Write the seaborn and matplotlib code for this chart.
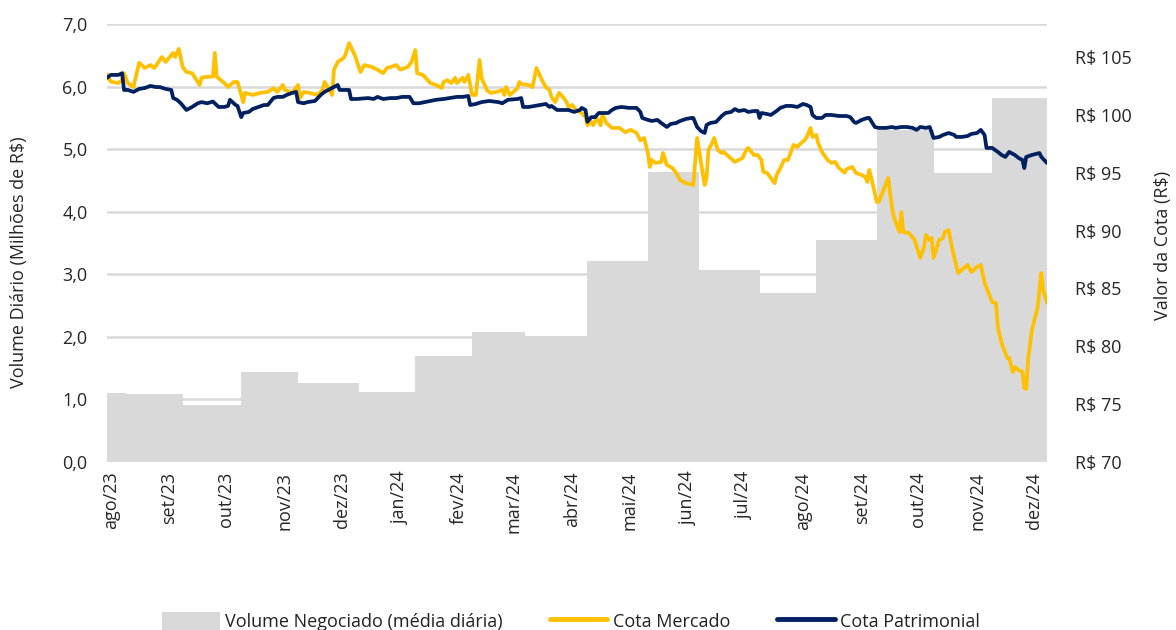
import matplotlib
matplotlib.use("Agg")
import matplotlib.pyplot as plt
import seaborn as sns
import pandas as pd
from matplotlib.patches import Patch
from matplotlib.lines import Line2D

# volume negociado (media diaria, milhoes de R$) - inicio de cada periodo
vol_start = ["2023-07-30", "2023-08-09", "2023-09-08", "2023-10-09", "2023-11-08", "2023-12-10",
             "2024-01-09", "2024-02-08", "2024-03-07", "2024-04-09", "2024-05-11", "2024-06-07",
             "2024-07-09", "2024-08-08", "2024-09-09", "2024-10-09", "2024-11-09"]
vol_value = [1.11, 1.08, 0.91, 1.44, 1.27, 1.12, 1.69, 2.07, 2.02, 3.22, 4.64, 3.07,
             2.70, 3.55, 5.30, 4.62, 5.82]
vol_end = "2024-12-08"

# cota mercado (R$)
mkt_dates = [
    "2023-07-30", "2023-08-01", "2023-08-05", "2023-08-07", "2023-08-08", "2023-08-10", "2023-08-13",
    "2023-08-16", "2023-08-19", "2023-08-22", "2023-08-24", "2023-08-26", "2023-08-28", "2023-08-30",
    "2023-09-03", "2023-09-04", "2023-09-06", "2023-09-08", "2023-09-10", "2023-09-13", "2023-09-17",
    "2023-09-18", "2023-09-21", "2023-09-24", "2023-09-25", "2023-09-26", "2023-09-30", "2023-10-02",
    "2023-10-05", "2023-10-07", "2023-10-09", "2023-10-10", "2023-10-11", "2023-10-15", "2023-10-19",
    "2023-10-23", "2023-10-26", "2023-10-28", "2023-10-31", "2023-11-01", "2023-11-05", "2023-11-08",
    "2023-11-09", "2023-11-11", "2023-11-14", "2023-11-18", "2023-11-21", "2023-11-22", "2023-11-24",
    "2023-11-26", "2023-11-27", "2023-11-29", "2023-12-02", "2023-12-03", "2023-12-05", "2023-12-08",
    "2023-12-11", "2023-12-13", "2023-12-17", "2023-12-20", "2023-12-23", "2023-12-25", "2023-12-27",
    "2023-12-30", "2024-01-01", "2024-01-05", "2024-01-07", "2024-01-09", "2024-01-10", "2024-01-13",
    "2024-01-17", "2024-01-20", "2024-01-23", "2024-01-24", "2024-01-26", "2024-01-28", "2024-01-30",
    "2024-01-31", "2024-02-03", "2024-02-04", "2024-02-06", "2024-02-08", "2024-02-10", "2024-02-12",
    "2024-02-13", "2024-02-16", "2024-02-18", "2024-02-21", "2024-02-24", "2024-02-25", "2024-02-26",
    "2024-02-28", "2024-03-03", "2024-03-04", "2024-03-05", "2024-03-09", "2024-03-11", "2024-03-12",
    "2024-03-13", "2024-03-16", "2024-03-18", "2024-03-20", "2024-03-21", "2024-03-23", "2024-03-25",
    "2024-03-27", "2024-03-29", "2024-03-30", "2024-04-01", "2024-04-03", "2024-04-06", "2024-04-08",
    "2024-04-09", "2024-04-11", "2024-04-12", "2024-04-14", "2024-04-16", "2024-04-17", "2024-04-19",
    "2024-04-22", "2024-04-26", "2024-04-29", "2024-05-02", "2024-05-05", "2024-05-07", "2024-05-09",
    "2024-05-11", "2024-05-12", "2024-05-13", "2024-05-15", "2024-05-18", "2024-05-19", "2024-05-21",
    "2024-05-24", "2024-05-26", "2024-05-28", "2024-05-31", "2024-06-04", "2024-06-06", "2024-06-08",
    "2024-06-10", "2024-06-11", "2024-06-12", "2024-06-14", "2024-06-15", "2024-06-17", "2024-06-19",
    "2024-06-20", "2024-06-23", "2024-06-26", "2024-06-28", "2024-06-30", "2024-07-02", "2024-07-03",
    "2024-07-06", "2024-07-08", "2024-07-10", "2024-07-11", "2024-07-13", "2024-07-15", "2024-07-17",
    "2024-07-18", "2024-07-20", "2024-07-22", "2024-07-24", "2024-07-26", "2024-07-27", "2024-07-29",
    "2024-07-31", "2024-08-02", "2024-08-03", "2024-08-05", "2024-08-06", "2024-08-08", "2024-08-09",
    "2024-08-11", "2024-08-14", "2024-08-16", "2024-08-18", "2024-08-20", "2024-08-23", "2024-08-24",
    "2024-08-27", "2024-08-29", "2024-09-01", "2024-09-03", "2024-09-04", "2024-09-05", "2024-09-06",
    "2024-09-09", "2024-09-10", "2024-09-13", "2024-09-15", "2024-09-17", "2024-09-18", "2024-09-21",
    "2024-09-22", "2024-09-23", "2024-09-26", "2024-09-29", "2024-10-02", "2024-10-04", "2024-10-05",
    "2024-10-07", "2024-10-08", "2024-10-09", "2024-10-12", "2024-10-14", "2024-10-15", "2024-10-17",
    "2024-10-19", "2024-10-22", "2024-10-25", "2024-10-27", "2024-10-29", "2024-11-01", "2024-11-03",
    "2024-11-05", "2024-11-09", "2024-11-11", "2024-11-12", "2024-11-14", "2024-11-17", "2024-11-18",
    "2024-11-20", "2024-11-21", "2024-11-23", "2024-11-25", "2024-11-26", "2024-11-27", "2024-11-28",
    "2024-11-30", "2024-12-03", "2024-12-05", "2024-12-06", "2024-12-08"]
mkt_values = [
    103.5, 102.87, 102.75, 103.0, 103.6, 102.75, 102.4,
    104.5, 104.05, 104.3, 104.05, 104.5, 105.0, 104.57,
    105.35, 105.0, 105.7, 104.14, 103.7, 103.6, 102.58,
    103.2, 103.3, 103.3, 105.35, 103.3, 102.75, 102.4,
    102.84, 102.84, 101.72, 101.1, 101.9, 101.72, 101.9,
    101.98, 102.3, 101.98, 102.58, 102.15, 101.9, 102.58,
    101.45, 101.98, 101.9, 101.72, 102.15, 102.84, 102.32,
    101.72, 103.9, 104.57, 104.9, 105.17, 106.2, 105.17,
    103.7, 104.3, 104.14, 103.9, 103.6, 104.05, 104.14,
    104.3, 103.9, 104.14, 104.57, 105.6, 103.6, 103.45,
    102.75, 102.58, 102.32, 102.84, 103.0, 102.75, 103.2,
    102.75, 103.2, 102.84, 103.45, 101.72, 101.72, 104.74,
    103.2, 102.1, 101.9, 101.98, 102.15, 101.72, 102.4,
    101.72, 102.3, 102.84, 102.67, 102.58, 102.4, 103.2,
    104.05, 103.0, 102.4, 102.15, 101.55, 101.1, 101.9,
    101.55, 101.1, 100.68, 100.85, 100.42, 100.16, 99.8,
    99.1, 99.4, 99.1, 99.7, 99.1, 100.0, 99.3,
    98.87, 98.87, 98.5, 98.7, 98.43, 97.8, 98.0,
    96.7, 95.5, 96.1, 95.84, 95.93, 96.7, 95.67,
    95.4, 94.98, 94.37, 94.1, 93.94, 98.0, 95.93,
    93.94, 94.54, 96.96, 97.57, 98.0, 96.96, 96.7,
    96.8, 96.36, 95.93, 96.1, 96.27, 96.96, 97.14,
    96.53, 96.53, 96.1, 95.07, 94.98, 94.54, 94.1,
    94.8, 95.4, 96.1, 96.1, 96.96, 97.4, 97.22,
    97.57, 97.83, 98.09, 98.87, 98.09, 98.26, 97.57,
    96.8, 96.1, 95.84, 95.93, 95.4, 95.0, 95.3,
    95.5, 94.98, 94.8, 94.63, 94.2, 95.24, 94.63,
    92.47, 92.47, 93.68, 94.54, 92.04, 91.17, 89.88,
    91.6, 89.88, 89.79, 89.18, 87.63, 88.58, 89.62,
    89.18, 89.36, 87.63, 89.18, 89.36, 89.88, 90.05,
    88.32, 86.33, 86.77, 87.03, 86.42, 86.85, 87.03,
    85.47, 83.83, 83.74, 81.67, 80.28, 78.99, 78.99,
    77.78, 78.21, 77.95, 77.78, 76.4, 76.3, 78.82,
    81.41, 83.31, 86.33, 84.86, 83.74]

# cota patrimonial (R$)
nav_dates = [
    "2023-07-30", "2023-08-01", "2023-08-05", "2023-08-07", "2023-08-08", "2023-08-10", "2023-08-13",
    "2023-08-16", "2023-08-19", "2023-08-22", "2023-08-25", "2023-08-27", "2023-08-30", "2023-09-02",
    "2023-09-03", "2023-09-05", "2023-09-07", "2023-09-10", "2023-09-13", "2023-09-16", "2023-09-18",
    "2023-09-21", "2023-09-24", "2023-09-27", "2023-09-30", "2023-10-02", "2023-10-03", "2023-10-06",
    "2023-10-07", "2023-10-09", "2023-10-10", "2023-10-13", "2023-10-15", "2023-10-18", "2023-10-21",
    "2023-10-23", "2023-10-26", "2023-10-28", "2023-10-31", "2023-11-02", "2023-11-05", "2023-11-07",
    "2023-11-08", "2023-11-11", "2023-11-13", "2023-11-17", "2023-11-20", "2023-11-22", "2023-11-25",
    "2023-11-29", "2023-11-30", "2023-12-05", "2023-12-06", "2023-12-09", "2023-12-15", "2023-12-18",
    "2023-12-20", "2023-12-23", "2023-12-27", "2023-12-30", "2024-01-02", "2024-01-06", "2024-01-08",
    "2024-01-11", "2024-01-17", "2024-01-20", "2024-01-24", "2024-01-27", "2024-01-31", "2024-02-03",
    "2024-02-06", "2024-02-07", "2024-02-10", "2024-02-13", "2024-02-17", "2024-02-22", "2024-02-24",
    "2024-02-27", "2024-03-03", "2024-03-05", "2024-03-06", "2024-03-09", "2024-03-15", "2024-03-18",
    "2024-03-20", "2024-03-21", "2024-03-24", "2024-03-30", "2024-04-02", "2024-04-05", "2024-04-06",
    "2024-04-08", "2024-04-09", "2024-04-11", "2024-04-13", "2024-04-15", "2024-04-20", "2024-04-22",
    "2024-04-24", "2024-04-27", "2024-05-01", "2024-05-05", "2024-05-07", "2024-05-08", "2024-05-11",
    "2024-05-13", "2024-05-16", "2024-05-18", "2024-05-21", "2024-05-23", "2024-05-26", "2024-05-28",
    "2024-05-31", "2024-06-03", "2024-06-04", "2024-06-06", "2024-06-08", "2024-06-10", "2024-06-11",
    "2024-06-13", "2024-06-16", "2024-06-19", "2024-06-21", "2024-06-24", "2024-06-26", "2024-06-28",
    "2024-07-01", "2024-07-03", "2024-07-06", "2024-07-08", "2024-07-09", "2024-07-10", "2024-07-13",
    "2024-07-15", "2024-07-18", "2024-07-20", "2024-07-23", "2024-07-26", "2024-07-29", "2024-08-01",
    "2024-08-03", "2024-08-05", "2024-08-06", "2024-08-08", "2024-08-11", "2024-08-13", "2024-08-16",
    "2024-08-20", "2024-08-24", "2024-08-26", "2024-08-28", "2024-08-29", "2024-09-01", "2024-09-04",
    "2024-09-05", "2024-09-08", "2024-09-10", "2024-09-14", "2024-09-17", "2024-09-19", "2024-09-22",
    "2024-09-25", "2024-09-28", "2024-09-30", "2024-10-02", "2024-10-05", "2024-10-07", "2024-10-09",
    "2024-10-12", "2024-10-14", "2024-10-17", "2024-10-20", "2024-10-21", "2024-10-24", "2024-10-27",
    "2024-10-29", "2024-11-01", "2024-11-03", "2024-11-05", "2024-11-06", "2024-11-09", "2024-11-12",
    "2024-11-14", "2024-11-16", "2024-11-18", "2024-11-21", "2024-11-23", "2024-11-25", "2024-11-26",
    "2024-11-27", "2024-11-30", "2024-12-04", "2024-12-05", "2024-12-08"]
nav_values = [
    103.2, 103.45, 103.45, 103.6, 102.15, 102.15, 101.98,
    102.24, 102.32, 102.5, 102.4, 102.4, 102.24, 102.15,
    101.45, 101.3, 101.0, 100.42, 100.68, 101.0, 101.1,
    101.0, 101.15, 100.68, 100.68, 100.77, 101.3, 100.85,
    100.77, 99.8, 100.16, 100.25, 100.5, 100.68, 100.85,
    100.85, 101.45, 101.55, 101.55, 101.72, 101.9, 101.98,
    101.1, 101.0, 101.1, 101.2, 101.72, 101.98, 102.24,
    102.58, 102.15, 102.15, 101.37, 101.37, 101.45, 101.37,
    101.55, 101.37, 101.45, 101.45, 101.55, 101.55, 101.0,
    101.0, 101.2, 101.3, 101.37, 101.45, 101.55, 101.55,
    101.63, 100.85, 100.94, 101.1, 101.2, 101.1, 101.0,
    101.3, 101.37, 101.45, 100.68, 100.68, 100.85, 100.94,
    100.68, 100.77, 100.42, 100.42, 100.25, 100.42, 100.6,
    100.42, 99.4, 99.8, 99.8, 100.16, 100.16, 100.42,
    100.6, 100.68, 100.6, 100.6, 100.25, 99.73, 99.56,
    99.47, 99.56, 99.3, 98.95, 99.21, 99.3, 99.47,
    99.64, 99.73, 99.73, 98.95, 98.6, 98.43, 99.12,
    99.3, 99.38, 99.9, 100.16, 100.25, 100.5, 100.33,
    100.42, 100.25, 100.33, 100.33, 99.73, 100.16, 100.07,
    99.99, 100.33, 100.6, 100.77, 100.77, 100.68, 100.94,
    100.85, 100.68, 99.99, 99.73, 99.73, 99.99, 99.99,
    99.9, 99.9, 99.8, 99.38, 99.3, 99.56, 99.73,
    99.73, 98.95, 98.87, 98.87, 98.95, 98.87, 98.95,
    98.95, 98.87, 98.7, 98.95, 98.87, 98.95, 98.0,
    98.09, 98.26, 98.43, 98.26, 98.09, 98.09, 98.17,
    98.35, 98.43, 98.7, 98.26, 97.14, 97.14, 96.8,
    96.53, 96.36, 96.8, 96.53, 96.27, 96.1, 95.4,
    96.36, 96.53, 96.7, 96.36, 95.84]

month_labels = ["ago/23", "set/23", "out/23", "nov/23", "dez/23", "jan/24", "fev/24", "mar/24",
                "abr/24", "mai/24", "jun/24", "jul/24", "ago/24", "set/24", "out/24", "nov/24", "dez/24"]
left_ticks = [0, 1, 2, 3, 4, 5, 6, 7]
right_ticks = [70, 75, 80, 85, 90, 95, 100, 105]

GRAY = "#d9d9d9"
YELLOW = "#ffc000"
NAVY = "#002060"

sns.set_style("white")
plt.rcParams["font.family"] = ["Open Sans", "DejaVu Sans"]
plt.rcParams["font.size"] = 13
plt.rcParams["text.color"] = "#222222"

fig = plt.figure(figsize=(11.76, 6.3), dpi=100)
ax = fig.add_axes([107 / 1176, 1 - 462 / 630, 940 / 1176, 438 / 630])

vx = pd.to_datetime(vol_start + [vol_end])
vy = vol_value + [vol_value[-1]]
ax.fill_between(vx, vy, step="post", color=GRAY, lw=0, zorder=2)
ax.set_ylim(0, 7)
ax.set_yticks(left_ticks)
ax.set_yticklabels([f"{v:.1f}".replace(".", ",") for v in left_ticks])
ax.grid(axis="y", color=GRAY, lw=1.8, zorder=0)
ax.grid(axis="x", visible=False)
ax.set_axisbelow(True)
ax.set_xlim(pd.Timestamp("2023-07-30"), pd.Timestamp("2024-12-08"))
ax.set_xticks(pd.date_range("2023-08-01", "2024-12-01", freq="MS"))
ax.set_xticklabels(month_labels, rotation=90)
ax.tick_params(axis="x", length=0, pad=7)
ax.tick_params(axis="y", length=0, pad=14)
ax.set_ylabel("Volume Diário (Milhões de R$)")
ax.yaxis.set_label_coords(-0.084, 0.457)

ax2 = ax.twinx()
df_mkt = pd.DataFrame({"data": pd.to_datetime(mkt_dates), "valor": mkt_values})
df_nav = pd.DataFrame({"data": pd.to_datetime(nav_dates), "valor": nav_values})
sns.lineplot(data=df_mkt, x="data", y="valor", ax=ax2, color=YELLOW, lw=2.7)
sns.lineplot(data=df_nav, x="data", y="valor", ax=ax2, color=NAVY, lw=2.7)
ax2.set_ylim(70, 107.85)
ax2.set_yticks(right_ticks)
ax2.set_yticklabels([f"R$ {v}" for v in right_ticks])
ax2.tick_params(axis="y", length=0, pad=20)
ax2.set_xlabel("")
ax2.set_ylabel("Valor da Cota (R$)")
ax2.yaxis.set_label_coords(1.114, 0.495)
ax2.set_xlim(pd.Timestamp("2023-07-30"), pd.Timestamp("2024-12-08"))

for a in (ax, ax2):
    for s in a.spines.values():
        s.set_visible(False)

handles = [Patch(facecolor=GRAY, edgecolor="none"),
           Line2D([], [], color=YELLOW, lw=3.5),
           Line2D([], [], color=NAVY, lw=3.5)]
names = ["Volume Negociado (média diária)", "Cota Mercado", "Cota Patrimonial"]
fig.legend(handles, names, loc="center", bbox_to_anchor=(571 / 1176, 0.014), ncol=3,
           frameon=False, handlelength=3.2, handleheight=1.2, handletextpad=0.3,
           columnspacing=2.6)

fig.savefig("out.png", dpi=100)
